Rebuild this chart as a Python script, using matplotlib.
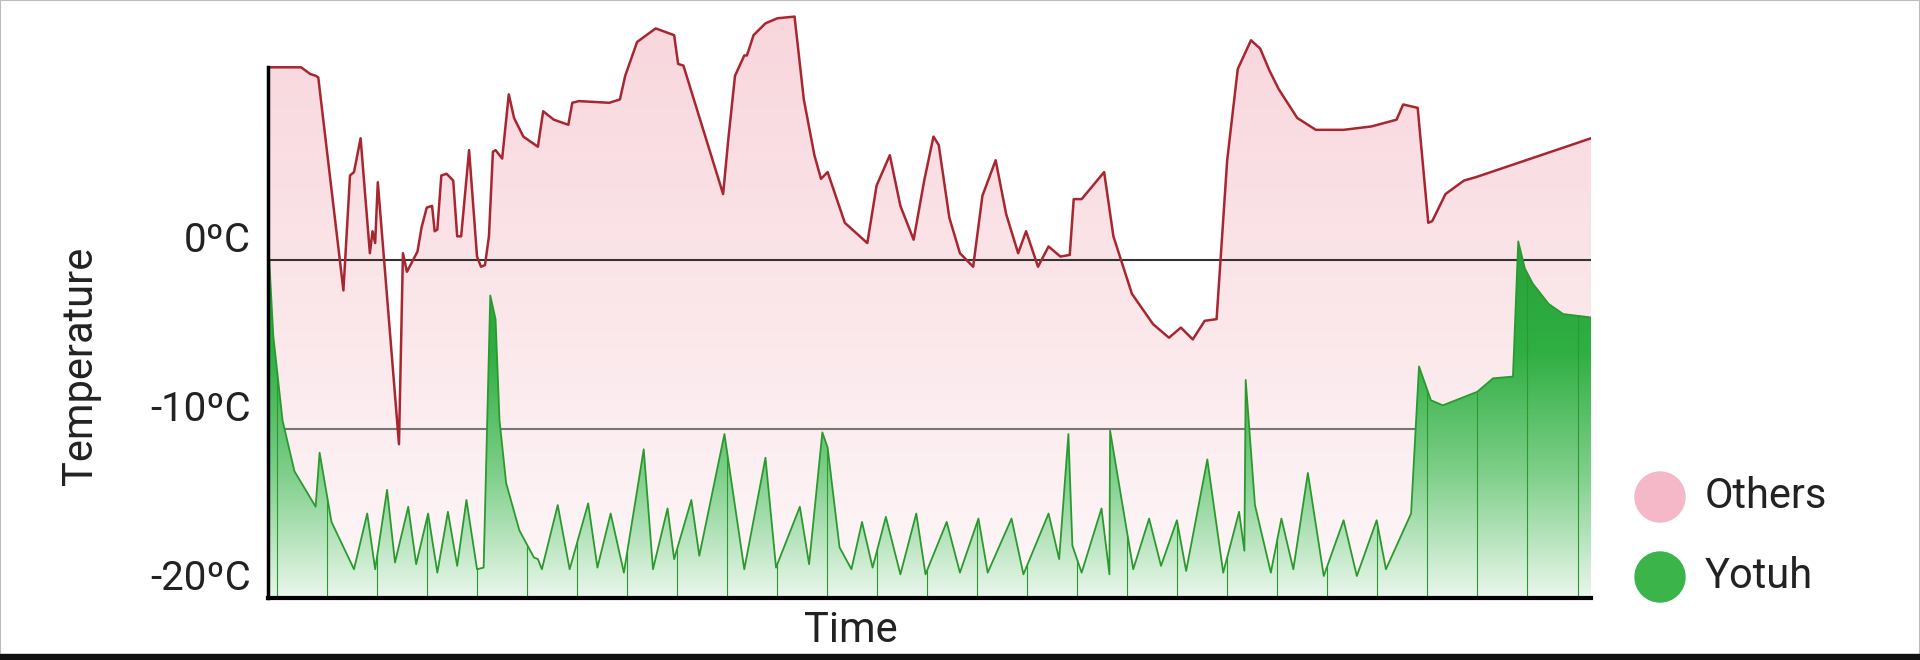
import numpy as np
import matplotlib
matplotlib.use("Agg")
import matplotlib.pyplot as plt
from matplotlib.colors import LinearSegmentedColormap
from matplotlib.patches import Rectangle

plt.rcParams['font.family'] = ['Roboto', 'DejaVu Sans']

others_t = [0, 2.5, 3.2, 3.6, 3.8, 5.7, 6.2, 6.5, 7.0, 7.7, 7.9, 8.1, 8.3, 9.9, 10.2, 10.5, 11.3, 11.6,
            12.0, 12.4, 12.6, 12.8, 13.1, 13.5, 14.0, 14.3, 14.6, 15.2, 15.8, 16.1, 16.4, 16.7, 17.0, 17.2,
            17.7, 18.2, 18.6, 19.3, 20.4, 20.8, 21.6, 22.7, 23.0, 23.5, 25.8, 26.6, 27.0, 27.9, 29.3, 30.7,
            31.0, 31.4, 34.4, 34.8, 35.3, 36.0, 36.2, 36.7, 37.6, 38.5, 39.8, 40.5, 41.3, 41.8, 42.3, 43.6, 45.3,
            46.0, 47.0, 47.8, 48.8, 49.6, 50.3, 50.7, 51.5, 52.3, 53.3, 54.0, 55.0, 55.8, 56.7, 57.3, 58.2,
            59.0, 59.9, 60.6, 60.9, 61.5, 63.2, 63.9, 65.3, 66.9, 68.1, 69.0, 69.9, 70.8, 71.7, 72.5, 73.3,
            74.3, 75.0, 75.7, 76.4, 77.8, 79.2, 81.3, 83.4, 85.3, 85.8, 86.9, 87.7, 88.0, 89.0, 90.4, 91.3, 100]
others_v = [11.4, 11.4, 11.0, 10.9, 10.8, -1.8, 5.0, 5.2, 7.2, 0.4, 1.7, 1.0, 4.6, -10.9, 0.4, -0.7, 0.5, 1.9,
            3.1, 3.2, 1.7, 1.8, 5.0, 5.1, 4.7, 1.4, 1.4, 6.5, 0.2, -0.4, -0.3, 1.4, 6.4, 6.5,
            6.0, 9.8, 8.4, 7.3, 6.7, 8.8, 8.3, 8.0, 9.3, 9.4, 9.3, 9.5, 10.9, 12.9, 13.7, 13.3,
            11.6, 11.5, 3.9, 7.2, 10.9, 12.1, 12.1, 13.3, 14.0, 14.3, 14.4, 9.5, 6.2, 4.8, 5.2, 2.2, 1.0,
            4.4, 6.2, 3.2, 1.2, 4.7, 7.3, 6.8, 2.5, 0.4, -0.4, 3.8, 5.9, 2.7, 0.4, 1.7, -0.4,
            0.8, 0.2, 0.3, 3.6, 3.6, 5.2, 1.4, -2.0, -3.8, -4.6, -4.0, -4.7, -3.6, -3.5, 5.9, 11.3,
            13.0, 12.5, 11.2, 10.1, 8.4, 7.7, 7.7, 7.9, 8.3, 9.2, 9.0, 2.2, 2.3, 3.9, 4.7, 4.9, 7.2]

yotuh_t = [0, 0.4, 1.1, 2.0, 3.6, 3.9, 4.8, 6.5, 7.5, 8.1, 9.0, 9.6, 10.6, 11.2, 12.1, 12.8, 13.6, 14.3, 15.0, 15.8,
           16.3, 16.8, 17.2, 17.5, 18.0, 19.0, 20.1, 20.4, 20.7, 21.9, 22.8, 24.2, 24.9, 25.9, 26.9, 28.4, 29.1,
           30.2, 30.7, 32.0, 32.6, 34.5, 36.0, 37.6, 38.4, 40.2, 40.9, 41.9, 42.3, 43.2, 44.1, 44.9, 45.7,
           46.7, 47.8, 49.0, 49.7, 51.3, 52.3, 53.7, 54.4, 56.2, 57.1, 59.0, 59.8, 60.5, 60.8, 61.5, 63.0,
           63.6, 63.65, 65.4, 66.6, 67.5, 68.7, 69.4, 71.0, 72.2, 73.4, 73.8, 73.9, 74.6, 75.8, 76.6, 77.5,
           78.6, 79.8, 81.3, 82.3, 83.8, 84.5, 86.4, 87.0, 87.9, 88.8, 91.4, 92.6, 94.1, 94.5, 95.0, 95.6, 96.8,
           97.9, 100]
yotuh_v = [1.4, -4.5, -9.5, -12.5, -14.6, -11.4, -15.5, -18.3, -15.0, -18.3, -13.6, -17.9, -14.6, -18.0, -15.0, -18.5, -14.9, -18.1, -14.2, -18.3,
           -18.2, -2.1, -3.5, -9.5, -13.2, -16.0, -17.6, -17.7, -18.3, -14.5, -18.3, -14.4, -18.2, -15.0, -18.5, -11.2, -18.3,
           -14.7, -17.7, -14.2, -17.5, -10.3, -18.3, -11.7, -18.2, -14.6, -18.0, -10.2, -11.1, -17.0, -18.3, -15.5, -18.2,
           -15.2, -18.6, -15.0, -18.6, -15.5, -18.5, -15.3, -18.5, -15.3, -18.6, -15.0, -17.7, -10.3, -16.9, -18.5, -14.7,
           -18.6, -10.1, -18.3, -15.3, -18.1, -15.4, -18.4, -11.8, -18.5, -14.9, -17.2, -7.1, -14.5, -18.5, -15.3, -18.3,
           -12.6, -18.7, -15.4, -18.7, -15.4, -18.3, -15.0, -6.3, -8.3, -8.6, -7.8, -7.0, -6.9, 1.1, -0.5, -1.4, -2.6,
           -3.2, -3.4]

labels = ["Others", "Yotuh"]
yticks = [0, -10, -20]
ytick_labels = ["0ºC", "-10ºC", "-20ºC"]

W, H = 1920, 660
fig = plt.figure(figsize=(W / 100, H / 100), dpi=100)
ax = fig.add_axes([268 / W, 62 / H, (1591 - 268) / W, (650 - 62) / H])
ymin, ymax = -20, 14.79
ax.set_xlim(0, 100)
ax.set_ylim(ymin, ymax)

grad = np.linspace(0, 1, 256).reshape(-1, 1)
pink = LinearSegmentedColormap.from_list("p", ["#fef7f8", "#f8d6dc"])
green = LinearSegmentedColormap.from_list("g", ["#eaf7ec", "#7fcf8a", "#2fae42", "#28a03a"])

p_fill = ax.fill_between(others_t, others_v, ymin, color="none")
im = ax.imshow(grad, cmap=pink, aspect="auto", extent=[0, 100, ymin, ymax], origin="lower", zorder=1)
im.set_clip_path(p_fill.get_paths()[0], transform=ax.transData)
ax.plot(others_t, others_v, color="#a8262f", lw=1.8, zorder=3)

ax.axhline(0, color="#333333", lw=1.5, zorder=2)
ax.axhline(-10, color="#777777", lw=1.5, zorder=2)

g_fill = ax.fill_between(yotuh_t, yotuh_v, ymin, color="none")
im2 = ax.imshow(grad, cmap=green, aspect="auto", extent=[0, 100, ymin, 2], origin="lower", zorder=4)
im2.set_clip_path(g_fill.get_paths()[0], transform=ax.transData)
ax.plot(yotuh_t, yotuh_v, color="#2a9a2e", lw=1.3, zorder=5)
vt = np.arange(0.7, 100, 3.78)
ax.vlines(vt, ymin, np.interp(vt, yotuh_t, yotuh_v), color="#2a9a2e", lw=0.8, zorder=5)

for s in ["top", "right"]:
    ax.spines[s].set_visible(False)
ax.spines["left"].set_bounds(ymin, 11.4)
ax.spines["left"].set_linewidth(2.5)
ax.spines["bottom"].set_linewidth(3)
ax.spines["left"].set_zorder(6)
ax.spines["bottom"].set_zorder(6)
ax.set_xticks([])
ax.set_yticks(yticks)
ax.set_yticklabels(ytick_labels, fontsize=29, color="#222222")
ax.tick_params(axis="y", length=0, pad=12)
for lbl in ax.get_yticklabels():
    lbl.set_verticalalignment("bottom")

fig.text(851 / W, 1 - 631 / H, "Time", ha="center", va="center", fontsize=30, color="#222222")
fig.text(80 / W, 1 - 366 / H, "Temperature", ha="center", va="center", rotation=90, fontsize=30, color="#222222")

legend_colors = ["#f5b8c8", "#3bb54a"]
for i, (lab, c) in enumerate(zip(labels, legend_colors)):
    y = 1 - (497 + 80 * i) / H
    fig.patches.append(matplotlib.patches.Ellipse((1660 / W, y), 50 / W, 50 / H, transform=fig.transFigure, color=c))
    fig.text(1705 / W, y, lab, ha="left", va="center", fontsize=30, color="#222222")

fig.patches.append(Rectangle((0, 0), 1, 1, transform=fig.transFigure, fill=False, ec="#bbbbbb", lw=1.5))
fig.patches.append(Rectangle((0, 0), 1, 6 / H, transform=fig.transFigure, color="#111111"))

fig.savefig("out.png", dpi=100)
